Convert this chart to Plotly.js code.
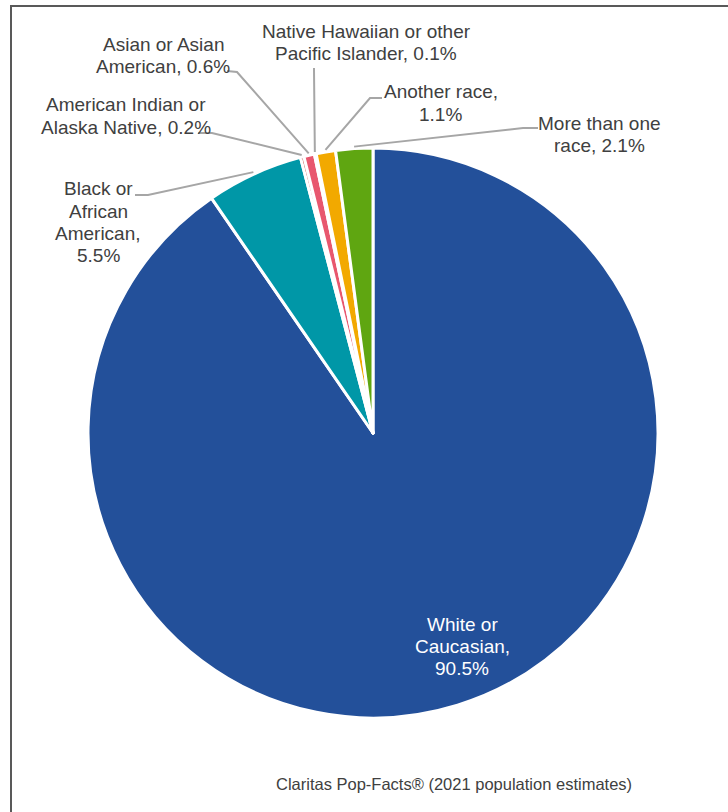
<!DOCTYPE html>
<html>
<head>
<meta charset="utf-8">
<script src="https://cdn.plot.ly/plotly-3.0.1.min.js"></script>
<style>html,body{margin:0;padding:0;background:#fff;}#chart{width:728px;height:812px;}</style>
</head>
<body>
<div id="chart"></div>
<script>
// ---- data ----
const categories = ["White or Caucasian", "Black or African American", "American Indian or Alaska Native", "Asian or Asian American", "Native Hawaiian or other Pacific Islander", "Another race", "More than one race"];
const values = [90.5, 5.5, 0.2, 0.6, 0.1, 1.1, 2.1];
const labelLines = [["White or", "Caucasian,", "90.5%"], ["Black or", "African", "American,", "5.5%"], ["American Indian or", "Alaska Native, 0.2%"], ["Asian or Asian", "American, 0.6%"], ["Native Hawaiian or other", "Pacific Islander, 0.1%"], ["Another race,", "1.1%"], ["More than one", "race, 2.1%"]];
const colors = ["#23509A", "#0097A7", "#C0504D", "#E8576E", "#7F7F7F", "#F2A900", "#5FA611"];
const sourceText = "Claritas Pop-Facts® (2021 population estimates)";

// ---- layout config (pixels) ----
const W = 728, H = 812;
const cx = 373, cy = 433, R = 285;
const LH = 22; // label line height
// label centre x and first-line centre y (pixels)
const labelPos = [[462, 624], [98, 189], [126, 105], [163, 45], [366, 32], [441, 92], [599, 123]];
const elbows = [null, [[135, 195], [148, 195]], [[198, 133], [212, 133]], [[227, 71], [237, 72]], [[314, 68], [314, 70]], [[382, 98], [370, 98]], [[538, 128], [523, 128]]];

const px = x => x / W;
const py = y => 1 - y / H;

const total = values.reduce((a, b) => a + b, 0);
let cum = 0;
const shapes = [];
const annotations = [];
values.forEach((v, i) => {
  const mid = (cum + v / 2) / total * 2 * Math.PI;
  cum += v;
  const [lx, ly] = labelPos[i];
  labelLines[i].forEach((t, k) => {
    annotations.push({
      x: px(lx), y: py(ly + k * LH), xref: 'paper', yref: 'paper', xanchor: 'center', yanchor: 'middle',
      text: t, showarrow: false, align: 'center',
      font: {family: 'Liberation Sans, Arial, sans-serif', size: 19, color: i === 0 ? '#FFFFFF' : '#404040'}
    });
  });
  if (elbows[i]) {
    const rr = R + 2;
    const ex = cx + rr * Math.sin(mid), ey = cy - rr * Math.cos(mid);
    const [a, b] = elbows[i];
    shapes.push({
      type: 'path', xref: 'paper', yref: 'paper',
      path: `M ${px(a[0])} ${py(a[1])} L ${px(b[0])} ${py(b[1])} L ${px(ex)} ${py(ey)}`,
      line: {color: '#A6A6A6', width: 2}
    });
  }
});

// frame
shapes.push({type: 'path', xref: 'paper', yref: 'paper',
  path: `M ${px(11)} ${py(812)} L ${px(11)} ${py(6)} L ${px(728)} ${py(6)}`,
  line: {color: '#595959', width: 2}});

annotations.push({x: px(454), y: py(784), xref: 'paper', yref: 'paper', xanchor: 'center', yanchor: 'middle',
  text: sourceText, showarrow: false, font: {family: 'Liberation Sans, Arial, sans-serif', size: 16.5, color: '#404040'}});

const trace = {
  type: 'pie', labels: categories, values: values, sort: false, direction: 'clockwise', rotation: 0,
  marker: {colors: colors, line: {color: '#FFFFFF', width: 3}},
  textinfo: 'none', hoverinfo: 'skip',
  domain: {x: [px(cx - R), px(cx + R)], y: [py(cy + R), py(cy - R)]}
};

const layout = {
  width: W, height: H, margin: {l: 0, r: 0, t: 0, b: 0},
  showlegend: false, paper_bgcolor: '#FFFFFF',
  shapes: shapes, annotations: annotations
};

Plotly.newPlot('chart', [trace], layout, {staticPlot: true, displayModeBar: false});
</script>
</body>
</html>
